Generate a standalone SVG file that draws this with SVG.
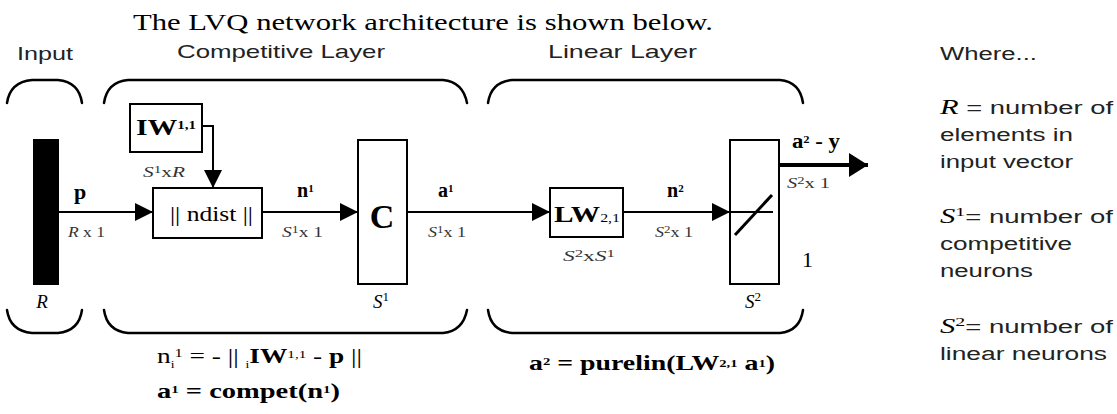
<svg xmlns="http://www.w3.org/2000/svg" width="1117" height="414" viewBox="0 0 1117 414">
<style>
.sans{font-family:"Liberation Sans","DejaVu Sans",sans-serif;fill:#222}
.serif{font-family:"Liberation Serif","DejaVu Serif",serif;fill:#000}
.b{font-weight:bold}
.it{font-style:italic}
.box{fill:#fff;stroke:#000;stroke-width:2}
.ln{fill:none;stroke:#000;stroke-width:2}
.brace{fill:none;stroke:#000;stroke-width:2.5;stroke-linecap:round}
.dim{font-family:"Liberation Serif",serif;font-size:14px;fill:#333}
</style>
<defs>
<marker id="ah" markerUnits="userSpaceOnUse" markerWidth="18" markerHeight="20" refX="18" refY="10" orient="auto"><path d="M0,1 L18,10 L0,19 z" fill="#000"/></marker>
<marker id="ahb" markerUnits="userSpaceOnUse" markerWidth="20" markerHeight="26" refX="19" refY="13" orient="auto"><path d="M0,1 L19,13 L0,25 z" fill="#000"/></marker>
</defs>
<rect width="1117" height="414" fill="#fff"/>
<text class="serif" x="133" y="30" font-size="23" textLength="580" lengthAdjust="spacingAndGlyphs">The LVQ network architecture is shown below.</text>
<text class="sans" x="17" y="60" font-size="19" textLength="56" lengthAdjust="spacingAndGlyphs">Input</text>
<text class="sans" x="177" y="58" font-size="19" textLength="208" lengthAdjust="spacingAndGlyphs">Competitive Layer</text>
<text class="sans" x="548" y="58" font-size="19" textLength="149" lengthAdjust="spacingAndGlyphs">Linear Layer</text>
<g id="braces">
<path class="brace" d="M7,103 Q10,82 32,80 H58 Q79,82 82,103"/>
<path class="brace" d="M7,310 Q10,331 32,333 H58 Q79,331 82,310"/>
<path class="brace" d="M104,103 Q107,82 128,80 H443 Q463,82 467,103"/>
<path class="brace" d="M104,310 Q107,331 128,333 H443 Q463,331 467,310"/>
<path class="brace" d="M488,103 Q491,82 512,80 H780 Q800,82 803,103"/>
<path class="brace" d="M488,310 Q491,331 512,333 H780 Q800,331 803,310"/>
</g>
<g id="input">
<rect x="33" y="139" width="26" height="146" fill="#000"/>
<text class="serif it" x="42" y="308" font-size="19" text-anchor="middle">R</text>
</g>
<g id="connectors">
<path class="ln" d="M59,212 H153" marker-end="url(#ah)"/>
<path class="ln" d="M202,126 H213 V188" marker-end="url(#ah)"/>
<path class="ln" d="M262,212 H358" marker-end="url(#ah)"/>
<path class="ln" d="M407,212 H550" marker-end="url(#ah)"/>
<path class="ln" d="M623,212 H730" marker-end="url(#ah)"/>
<path fill="none" stroke="#000" stroke-width="4" d="M779,165 H868" marker-end="url(#ahb)"/>
</g>
<g id="labels">
<text class="serif b" x="80" y="199" font-size="22" text-anchor="middle">p</text>
<text class="dim" x="68" y="237" textLength="37" lengthAdjust="spacingAndGlyphs"><tspan class="it">R</tspan> x 1</text>
<text class="dim" x="143" y="177" textLength="42" lengthAdjust="spacingAndGlyphs"><tspan class="it">S</tspan><tspan font-size="10" dy="-4">1</tspan><tspan dy="4">x</tspan><tspan class="it">R</tspan></text>
<text class="serif b" x="297" y="197" font-size="20">n<tspan font-size="11" dy="-5">1</tspan></text>
<text class="dim" x="282" y="237" textLength="41" lengthAdjust="spacingAndGlyphs"><tspan class="it">S</tspan><tspan font-size="10" dy="-4">1</tspan><tspan dy="4">x 1</tspan></text>
<text class="serif b" x="438" y="197" font-size="20">a<tspan font-size="11" dy="-5">1</tspan></text>
<text class="dim" x="428" y="237" textLength="38" lengthAdjust="spacingAndGlyphs"><tspan class="it">S</tspan><tspan font-size="10" dy="-4">1</tspan><tspan dy="4">x 1</tspan></text>
<text class="serif b" x="667" y="197" font-size="20">n<tspan font-size="11" dy="-5">2</tspan></text>
<text class="dim" x="655" y="237" textLength="38" lengthAdjust="spacingAndGlyphs"><tspan class="it">S</tspan><tspan font-size="10" dy="-4">2</tspan><tspan dy="4">x 1</tspan></text>
<text class="serif b" x="792" y="148" font-size="20" textLength="48" lengthAdjust="spacingAndGlyphs">a<tspan font-size="11" dy="-5">2</tspan><tspan dy="5"> - y</tspan></text>
<text class="dim" x="787" y="188" textLength="43" lengthAdjust="spacingAndGlyphs"><tspan class="it">S</tspan><tspan font-size="10" dy="-4">2</tspan><tspan dy="4">x 1</tspan></text>
</g>
<g id="IW">
<rect class="box" x="130" y="104" width="72" height="48"/>
<text class="serif b" x="136" y="135" font-size="24" textLength="60" lengthAdjust="spacingAndGlyphs">IW<tspan font-size="12" dy="-6">1,1</tspan></text>
</g>
<g id="ndist">
<rect class="box" x="153" y="188" width="109" height="50"/>
<text class="serif" x="170" y="221" font-size="21" textLength="83" lengthAdjust="spacingAndGlyphs">|| ndist ||</text>
</g>
<g id="compet">
<rect class="box" x="358" y="140" width="49" height="144"/>
<text class="serif b" x="382" y="228" font-size="34" text-anchor="middle">C</text>
<text class="serif it" x="373" y="308" font-size="19">S<tspan font-size="13" dy="-7" font-style="normal">1</tspan></text>
</g>
<g id="LW">
<rect class="box" x="550" y="188" width="73" height="49"/>
<text class="serif b" x="554" y="222" font-size="24" textLength="66" lengthAdjust="spacingAndGlyphs">LW<tspan font-size="13" dy="0" font-weight="normal">2,1</tspan></text>
<text class="dim" x="563" y="261" textLength="52" lengthAdjust="spacingAndGlyphs"><tspan class="it">S</tspan><tspan font-size="10" dy="-4">2</tspan><tspan dy="4">x</tspan><tspan class="it">S</tspan><tspan font-size="10" dy="-4">1</tspan></text>
</g>
<g id="purelin">
<rect class="box" x="730" y="140" width="49" height="144"/>
<path class="ln" d="M730,212 H773"/>
<path fill="none" stroke="#000" stroke-width="3" d="M735,235 L772,195"/>
<text class="serif" x="802" y="267" font-size="22">1</text>
<text class="serif it" x="745" y="308" font-size="19">S<tspan font-size="13" dy="-7" font-style="normal">2</tspan></text>
</g>
<g id="formulas">
<text class="serif" x="157" y="363" font-size="20" textLength="205" lengthAdjust="spacingAndGlyphs">n<tspan font-size="10" dy="5">i</tspan><tspan font-size="12" dy="-11">1</tspan><tspan dy="6"> = - || </tspan><tspan font-size="10" dy="5">i</tspan><tspan class="b" dy="-5">IW</tspan><tspan font-size="11" dy="-5">1,1</tspan><tspan dy="5"> - </tspan><tspan class="b">p</tspan> ||</text>
<text class="serif b" x="157" y="398" font-size="21" textLength="183" lengthAdjust="spacingAndGlyphs">a<tspan font-size="11" dy="-5">1</tspan><tspan dy="5"> = compet(n</tspan><tspan font-size="11" dy="-5">1</tspan><tspan dy="5">)</tspan></text>
<text class="serif b" x="529" y="370" font-size="21" textLength="246" lengthAdjust="spacingAndGlyphs">a<tspan font-size="11" dy="-5">2</tspan><tspan dy="5"> = purelin(LW</tspan><tspan font-size="11" dy="-3">2,1</tspan><tspan dy="3"> a</tspan><tspan font-size="11" dy="-3">1</tspan><tspan dy="3">)</tspan></text>
</g>
<g id="legend">
<text class="sans" x="940" y="60" font-size="18" textLength="97" lengthAdjust="spacingAndGlyphs">Where...</text>
<text class="sans" x="940" y="114" font-size="18" textLength="173" lengthAdjust="spacingAndGlyphs"><tspan class="serif it" font-size="20">R</tspan>   = number of</text>
<text class="sans" x="940" y="141" font-size="18" textLength="133" lengthAdjust="spacingAndGlyphs">elements in</text>
<text class="sans" x="940" y="168" font-size="18" textLength="133" lengthAdjust="spacingAndGlyphs">input vector</text>
<text class="sans" x="940" y="223" font-size="18" textLength="173" lengthAdjust="spacingAndGlyphs"><tspan class="serif it" font-size="20">S</tspan><tspan class="serif" font-size="13" dy="-7">1</tspan><tspan dy="7">= number of</tspan></text>
<text class="sans" x="940" y="250" font-size="18" textLength="132" lengthAdjust="spacingAndGlyphs">competitive</text>
<text class="sans" x="940" y="277" font-size="18" textLength="93" lengthAdjust="spacingAndGlyphs">neurons</text>
<text class="sans" x="940" y="333" font-size="18" textLength="173" lengthAdjust="spacingAndGlyphs"><tspan class="serif it" font-size="20">S</tspan><tspan class="serif" font-size="13" dy="-7">2</tspan><tspan dy="7">= number of</tspan></text>
<text class="sans" x="940" y="360" font-size="18" textLength="167" lengthAdjust="spacingAndGlyphs">linear neurons</text>
</g>
</svg>
